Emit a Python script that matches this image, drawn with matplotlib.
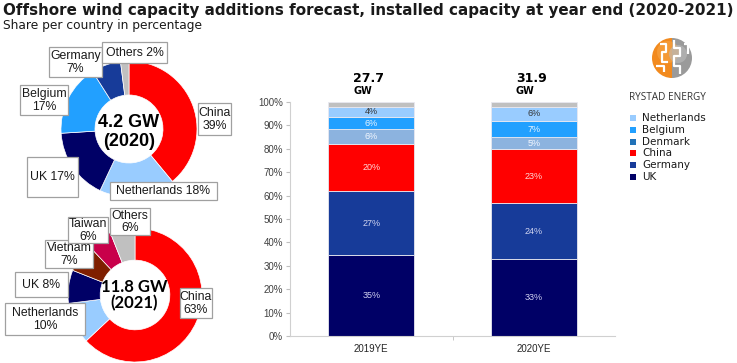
import matplotlib
matplotlib.use("Agg")
import matplotlib.pyplot as plt
from matplotlib.patches import Rectangle, Circle, Wedge
import numpy as np

W, H = 737, 363

# ---------------- data ----------------
pie1_labels = ["China", "Netherlands", "UK", "Belgium", "Germany", "Others"]
pie1_values = [39, 18, 17, 17, 7, 2]
pie1_text = ["China\n39%", "Netherlands 18%", "UK 17%", "Belgium\n17%", "Germany\n7%", "Others 2%"]
pie1_center = "4.2 GW\n(2020)"

pie2_labels = ["China", "Netherlands", "UK", "Vietnam", "Taiwan", "Others"]
pie2_values = [63, 10, 8, 7, 6, 6]
pie2_text = ["China\n63%", "Netherlands\n10%", "UK 8%", "Vietnam\n7%", "Taiwan\n6%", "Others\n6%"]
pie2_center = "11.8 GW\n(2021)"

bar_categories = ["2019YE", "2020YE"]
bar_totals = ["27.7", "31.9"]
bar_series = ["UK", "Germany", "China", "Denmark", "Belgium", "Netherlands", "Others"]
bar_values = {
    "UK":          [34.7, 32.8],
    "Germany":     [27.1, 23.9],
    "China":       [20.1, 23.1],
    "Denmark":     [6.4, 5.1],
    "Belgium":     [5.4, 7.1],
    "Netherlands": [4.2, 6.0],
    "Others":      [2.1, 2.0],
}
bar_labels = {
    "UK":          ["35%", "33%"],
    "Germany":     ["27%", "24%"],
    "China":       ["20%", "23%"],
    "Denmark":     ["6%", "5%"],
    "Belgium":     ["6%", "7%"],
    "Netherlands": ["4%", "6%"],
    "Others":      ["", ""],
}
legend_series = ["Netherlands", "Belgium", "Denmark", "China", "Germany", "UK"]
yticks = [0, 10, 20, 30, 40, 50, 60, 70, 80, 90, 100]

# ---------------- styles ----------------
colors = {
    "China": "#FF0000", "Netherlands": "#99CCFF", "UK": "#000066",
    "Belgium": "#22A0FF", "Germany": "#173B99", "Others": "#C0C0C0",
    "Vietnam": "#7F1F00", "Taiwan": "#C8004A", "Denmark": "#8CB3DF",
}
legend_colors = dict(colors, Denmark="#2172B8")
bar_text_colors = {
    "UK": "#D0D0F0", "Germany": "#D0D4F0", "China": "#FFD8D8",
    "Denmark": "#F4F8FF", "Belgium": "#E8F4FF", "Netherlands": "#333333", "Others": "#333333",
}

fig = plt.figure(figsize=(W / 100, H / 100), dpi=100)
fig.patch.set_facecolor("white")


def rect(x, y, w, h):
    return [x / W, 1 - (y + h) / H, w / W, h / H]


# ---------------- donuts ----------------
def donut(cx, cy, r, labels, values, width):
    ax = fig.add_axes(rect(cx - r, cy - r, 2 * r, 2 * r))
    ax.pie(values, colors=[colors[l] for l in labels], startangle=90,
           counterclock=False, radius=1,
           wedgeprops=dict(width=width, edgecolor="white", linewidth=0.5))
    ax.set_xlim(-1, 1)
    ax.set_ylim(-1, 1)
    ax.set_aspect("auto")
    ax.axis("off")
    return ax


donut(129, 129, 68, pie1_labels, pie1_values, 0.50)
donut(135, 295, 67, pie2_labels, pie2_values, 0.48)

# ---------------- bar chart ----------------
axb = fig.add_axes(rect(290, 102, 325, 234))
x = np.arange(len(bar_categories))
bottom = np.zeros(len(bar_categories))
bw = 0.53
for s in bar_series:
    vals = np.array(bar_values[s])
    axb.bar(x, vals, bw, bottom=bottom, color=colors[s],
            edgecolor="#E8E8F0", linewidth=0.6)
    for i, v in enumerate(vals):
        if bar_labels[s][i]:
            axb.text(x[i], bottom[i] + v / 2, bar_labels[s][i], ha="center", va="center",
                     fontsize=6.5, color=bar_text_colors[s], family="Liberation Sans")
    bottom += vals

axb.set_xlim(-0.5, 1.5)
axb.set_ylim(0, 100)
axb.set_yticks(yticks)
axb.set_yticklabels([f"{t}%" for t in yticks], fontsize=7, color="#404040",
                    family="Liberation Sans")
axb.set_xticks(x)
axb.set_xticklabels(bar_categories, fontsize=7, color="#262626", family="Liberation Sans")
axb.set_xticks([0.5], minor=True)
axb.tick_params(axis="x", which="major", length=0, pad=6)
axb.tick_params(axis="x", which="minor", length=3, color="#BFBFBF")
axb.tick_params(axis="y", length=3, color="#BFBFBF", pad=2)
for sp in ["top", "right"]:
    axb.spines[sp].set_visible(False)
for sp in ["left", "bottom"]:
    axb.spines[sp].set_color("#D0D0D0")
    axb.spines[sp].set_linewidth(0.8)

# totals above bars
for i, t in enumerate(bar_totals):
    axb.annotate(t, xy=(x[i], 100), xycoords="data", xytext=(-13, 12),
                 textcoords="offset points", ha="left", va="bottom",
                 fontsize=9, fontweight="bold", family="DejaVu Sans", color="black")
    axb.annotate("GW", xy=(x[i], 100), xycoords="data", xytext=(-13, 4),
                 textcoords="offset points", ha="left", va="bottom",
                 fontsize=7, fontweight="bold", family="DejaVu Sans", color="black")

# ---------------- overlay ----------------
ov = fig.add_axes([0, 0, 1, 1], zorder=10)
ov.set_xlim(0, W)
ov.set_ylim(H, 0)
ov.axis("off")
ov.patch.set_alpha(0)

ov.text(3, 11, "Offshore wind capacity additions forecast, installed capacity at year end (2020-2021)",
        fontsize=10.9, fontweight="bold", family="DejaVu Sans", ha="left", va="center", color="#1A1A1A")
ov.text(3, 26, "Share per country in percentage", fontsize=8.8, family="DejaVu Sans",
        ha="left", va="center", color="#1A1A1A")


def label_box(x0, x1, y0, y1, txt, z):
    ov.add_patch(Rectangle((x0, y0), x1 - x0, y1 - y0, facecolor="white",
                           edgecolor="#A0A0A0", linewidth=0.9, zorder=z))
    ov.text((x0 + x1) / 2, (y0 + y1) / 2 + 0.5, txt, ha="center", va="center", fontsize=8.8,
            family="Liberation Sans", color="#1A1A1A", linespacing=1.1, zorder=z + 0.5)


# (x0, x1, y0, y1) for pie labels
pie1_boxes = [(198, 231, 103, 135), (110, 217, 182, 200), (27, 78, 157, 197),
              (20, 68, 85, 115), (49, 102, 47, 77), (102, 167, 42, 63)]
for k, (b, t) in enumerate(zip(pie1_boxes, pie1_text)):
    label_box(*b, t, 20 + k)

pie2_boxes = [(180, 212, 288, 318), (5, 85, 303, 335), (15, 68, 272, 297),
              (45, 93, 240, 268), (68, 108, 217, 243), (110, 150, 208, 235)]
for k, (b, t) in enumerate(zip(pie2_boxes, pie2_text)):
    label_box(*b, t, 20 + k)

ov.text(129, 132, pie1_center, ha="center", va="center", fontsize=13, fontweight="bold",
        family="Liberation Sans", color="black", linespacing=1.15)
ov.text(134, 295, pie2_center, ha="center", va="center", fontsize=12, fontweight="bold",
        family="Lato", color="black", linespacing=1.05)

# legend
leg_y = [118, 130, 142, 153, 165, 177]
for s, ly in zip(legend_series, leg_y):
    ov.add_patch(Rectangle((630, ly - 3), 6, 6, facecolor=legend_colors[s], edgecolor="none"))
    ov.text(642, ly, s, fontsize=7.5, family="DejaVu Sans", ha="left", va="center", color="#1A1A1A")

# logo
lx, ly, lr = 672, 58, 20
ov.add_patch(Wedge((lx, ly), lr, 90, 270, facecolor="#F28A1E", edgecolor="none"))
ov.add_patch(Wedge((lx, ly), lr, -90, 90, facecolor="#9A9A9A", edgecolor="none"))
ov.add_patch(Circle((lx - 4, ly - 6), lr * 0.55, facecolor="#F6A548", edgecolor="none", alpha=0.6))
ov.add_patch(Circle((lx + 6, ly - 4), lr * 0.45, facecolor="#BDBDBD", edgecolor="none", alpha=0.6))
for pts in [[(lx - 12, ly - 14), (lx - 6, ly - 14), (lx - 6, ly - 6), (lx - 10, ly - 6), (lx - 10, ly + 4), (lx - 4, ly + 4)],
            [(lx + 2, ly - 18), (lx + 2, ly - 10), (lx + 8, ly - 10), (lx + 8, ly - 2), (lx + 2, ly - 2), (lx + 2, ly + 8), (lx + 8, ly + 8), (lx + 8, ly + 16)],
            [(lx - 16, ly + 8), (lx - 8, ly + 8), (lx - 8, ly + 14)],
            [(lx + 12, ly - 14), (lx + 16, ly - 14), (lx + 16, ly - 4)]]:
    xs, ys = zip(*pts)
    ov.plot(xs, ys, color="white", linewidth=1.6, solid_capstyle="butt")
ov.text(lx - 5, 98, "RYSTAD ENERGY", fontsize=7.2, family="Open Sans", ha="center", va="center",
        color="#333333")

fig.savefig("out.png", dpi=100, facecolor="white")
